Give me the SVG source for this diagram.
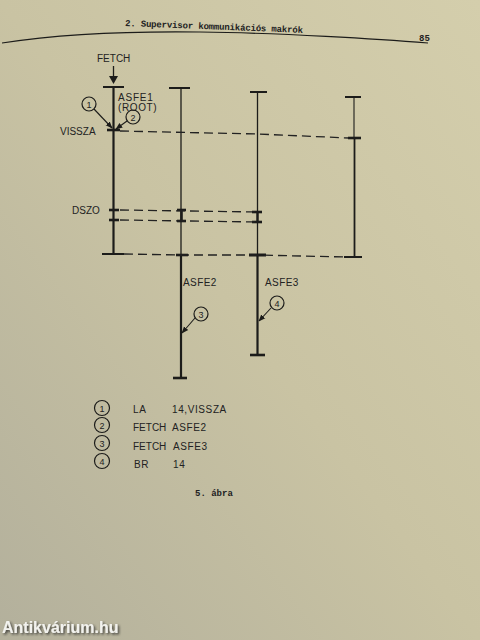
<svg xmlns="http://www.w3.org/2000/svg" width="480" height="640" viewBox="0 0 480 640">
<defs>
<linearGradient id="bg" x1="1" y1="0" x2="0" y2="1">
<stop offset="0" stop-color="#d4ceac"/>
<stop offset="0.5" stop-color="#c9c3a3"/>
<stop offset="1" stop-color="#b3b09c"/>
</linearGradient>
<marker id="ah" viewBox="0 0 10 10" refX="9" refY="5" markerWidth="7" markerHeight="7" orient="auto" markerUnits="userSpaceOnUse">
<path d="M0,1 L10,5 L0,9 Z" fill="#1c1c1a"/>
</marker>
<filter id="sh" x="-10%" y="-30%" width="130%" height="180%">
<feDropShadow dx="1.5" dy="1.5" stdDeviation="1" flood-color="#222" flood-opacity="0.8"/>
</filter>
</defs>
<style>
.ln{stroke:#1c1c1a;fill:none;stroke-linecap:butt}
.thin{stroke-width:1.3}
.thick{stroke-width:2.2}
.bar{stroke-width:2}
.tick{stroke-width:2.6}
.dash{stroke:#222;stroke-width:1.3;fill:none;stroke-dasharray:9 5}
.lbl{font-family:"Liberation Sans","DejaVu Sans",Arial,sans-serif;font-size:10px;fill:#222}
.leg{letter-spacing:0.6px}
.mono{font-family:"Liberation Mono","DejaVu Sans Mono",monospace;font-size:9px;fill:#222;font-weight:bold}
.circ{fill:none;stroke:#1c1c1a;stroke-width:1.2}
.num{font-family:"Liberation Sans","DejaVu Sans",Arial,sans-serif;font-size:9px;fill:#222;text-anchor:middle}
.call{stroke:#1c1c1a;stroke-width:1.1;fill:none}
</style>
<rect x="0" y="0" width="480" height="640" fill="url(#bg)"/>

<g id="header">
<path class="ln" stroke-width="1.2" d="M2,43 C60,34 120,31 200,32 S380,39 428,43"/>
<text class="mono" x="125" y="26" textLength="178" transform="rotate(2.2 125 26)">2. Supervisor kommunikációs makrók</text>
<text class="mono" x="419" y="41">85</text>
</g>

<g id="asfe1">
<line class="ln thin" x1="113.5" y1="66" x2="113.5" y2="78"/>
<path d="M109,76 L118,76 L113.5,84 Z" fill="#1c1c1a"/>
<text class="lbl" x="97" y="62">FETCH</text>
<line class="ln bar" x1="103" y1="87" x2="124" y2="87"/>
<line class="ln thick" x1="113.5" y1="87" x2="113.5" y2="254"/>
<line class="ln tick" x1="107" y1="130" x2="120" y2="130"/>
<line class="ln tick" x1="109" y1="210" x2="119" y2="210"/>
<line class="ln tick" x1="109" y1="220" x2="119" y2="220"/>
<line class="ln bar" x1="102" y1="254" x2="124" y2="254"/>
<text class="lbl" x="118" y="101" letter-spacing="0.8">ASFE1</text>
<text class="lbl" x="118" y="111" letter-spacing="0.6">(ROOT)</text>
<text class="lbl" x="60" y="135" font-size="9">VISSZA</text>
<text class="lbl" x="72" y="214" font-size="9">DSZO</text>
</g>

<g id="asfe2">
<line class="ln bar" x1="169" y1="88" x2="190" y2="88" stroke-width="1.5"/>
<line class="ln thin" x1="181" y1="88" x2="181" y2="255"/>
<line class="ln thick" x1="181" y1="255" x2="181" y2="378"/>
<line class="ln tick" x1="177" y1="210" x2="186" y2="210"/>
<line class="ln tick" x1="177" y1="221" x2="186" y2="221"/>
<line class="ln" stroke-width="2.6" x1="181.5" y1="210" x2="181.5" y2="221"/>
<line class="ln tick" x1="176" y1="255" x2="188" y2="255"/>
<line class="ln tick" x1="173" y1="378" x2="187" y2="378"/>
<text class="lbl" x="183" y="286" letter-spacing="0.4">ASFE2</text>
</g>

<g id="asfe3">
<line class="ln bar" x1="250" y1="92" x2="267" y2="92" stroke-width="1.5"/>
<line class="ln thin" x1="257.5" y1="92" x2="257.5" y2="255"/>
<line class="ln thick" x1="257.5" y1="255" x2="257.5" y2="355"/>
<line class="ln tick" x1="252" y1="212" x2="262" y2="212"/>
<line class="ln tick" x1="252" y1="222" x2="262" y2="222"/>
<line class="ln" stroke-width="2.4" x1="257.5" y1="212" x2="257.5" y2="222"/>
<line class="ln" stroke-width="3" x1="249" y1="255" x2="266" y2="255"/>
<line class="ln tick" x1="250" y1="355" x2="265" y2="355"/>
<text class="lbl" x="265" y="286" letter-spacing="0.4">ASFE3</text>
</g>

<g id="asfe4">
<line class="ln bar" x1="345" y1="97" x2="361" y2="97" stroke-width="1.4"/>
<line class="ln" stroke-width="1.1" x1="354" y1="97" x2="354" y2="138"/>
<line class="ln" stroke-width="1.8" x1="354.5" y1="138" x2="354.5" y2="257"/>
<line class="ln tick" x1="348" y1="138" x2="361" y2="138"/>
<line class="ln bar" x1="344" y1="257" x2="362" y2="257"/>
</g>

<g id="connectors">
<path class="dash" d="M120,131 L257,134 L349,138"/>
<path class="dash" d="M120,210 L257,212"/>
<path class="dash" d="M120,220 L257,222"/>
<path class="dash" d="M124,254 L181,255 L257,255 L345,257"/>
<line class="call" x1="94" y1="109" x2="112" y2="128" marker-end="url(#ah)"/>
<line class="call" x1="127" y1="121" x2="116" y2="129" marker-end="url(#ah)"/>
<line class="call" x1="195" y1="318" x2="182" y2="333" marker-end="url(#ah)"/>
<line class="call" x1="271" y1="308" x2="259" y2="321" marker-end="url(#ah)"/>
</g>

<g id="callouts">
<circle class="circ" cx="89" cy="104" r="7"/><text class="num" x="89" y="107.5">1</text>
<circle class="circ" cx="133" cy="117" r="7"/><text class="num" x="133" y="120.5">2</text>
<circle class="circ" cx="201" cy="314" r="7"/><text class="num" x="201" y="317.5">3</text>
<circle class="circ" cx="277" cy="303" r="7"/><text class="num" x="277" y="306.5">4</text>
</g>

<g id="legend">
<circle class="circ" cx="102" cy="408" r="7.5"/><text class="num" x="102" y="411.5">1</text>
<circle class="circ" cx="102" cy="425" r="7.5"/><text class="num" x="102" y="428.5">2</text>
<circle class="circ" cx="102" cy="443" r="7.5"/><text class="num" x="102" y="446.5">3</text>
<circle class="circ" cx="102" cy="461" r="7.5"/><text class="num" x="102" y="464.5">4</text>
<text class="lbl leg" x="133" y="413">LA</text>
<text class="lbl leg" x="172" y="413">14,VISSZA</text>
<text class="lbl" x="133" y="431">FETCH</text>
<text class="lbl leg" x="172" y="431">ASFE2</text>
<text class="lbl" x="133" y="450">FETCH</text>
<text class="lbl leg" x="173" y="450">ASFE3</text>
<text class="lbl leg" x="134" y="468">BR</text>
<text class="lbl leg" x="173" y="468">14</text>
</g>

<g id="caption">
<text class="mono" x="195" y="496" font-size="8">5. ábra</text>
</g>

<g id="watermark">
<text x="2" y="633" font-family="Liberation Sans,Arial,sans-serif" font-weight="bold" font-size="16" fill="#f2f2ee" filter="url(#sh)">Antikvárium.hu</text>
</g>
</svg>
